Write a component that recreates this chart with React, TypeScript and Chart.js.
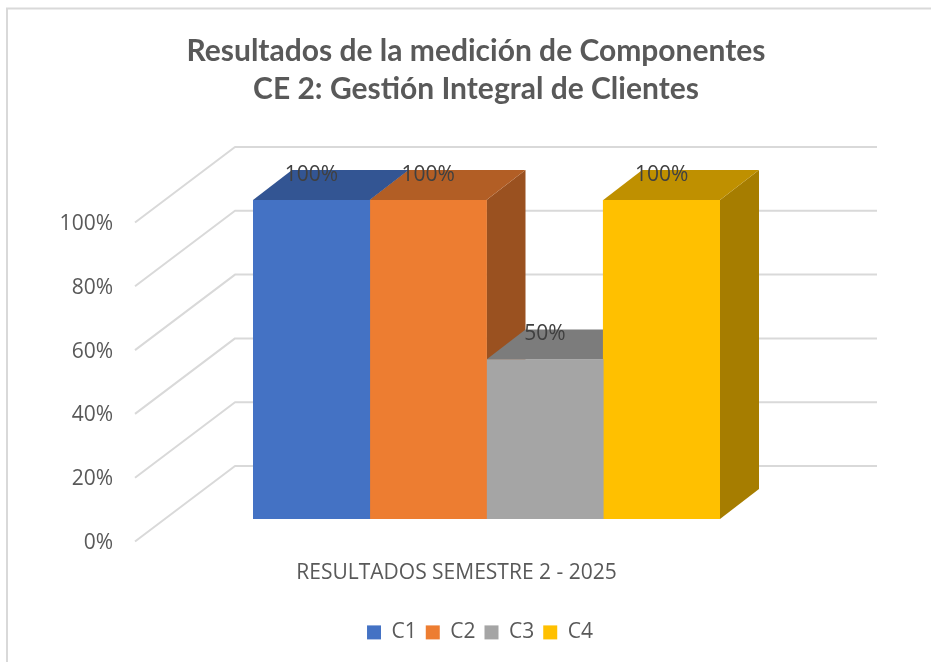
import React, { useEffect, useRef } from "react";
import { Chart, registerables } from "chart.js";

Chart.register(...registerables);

const titleLines = ["Resultados de la medición de Componentes", "CE 2: Gestión Integral de Clientes"];
const categories = ["RESULTADOS SEMESTRE 2 - 2025"];
const seriesNames = ["C1", "C2", "C3", "C4"];
const seriesValues = [100, 100, 50, 100];
const frontColors = ["#4472C4", "#ED7D31", "#A5A5A5", "#FFC000"];
const topColors = ["#335593", "#B25E25", "#7C7C7C", "#BF9000"];
const sideColors = ["#2C4A80", "#9A5120", "#6B6B6B", "#A67D00"];
const gridTicks = [0, 20, 40, 60, 80, 100];

const DEPTH_X = 39;
const DEPTH_Y = -30;
const PLOT_BOTTOM = 519;

const box3d = {
  id: "box3d",
  afterLayout(chart: any) {
    const { chartArea, scales, legend } = chart;
    const dy = PLOT_BOTTOM - chartArea.bottom;
    chartArea.bottom += dy;
    chartArea.height += dy;
    scales.y.bottom += dy;
    scales.y.height += dy;
    scales.y.configure();
    scales.x.top += dy;
    scales.x.bottom += dy;
    if (legend) {
      legend.left += 4;
      legend.right += 4;
      legend.top += 33.5;
      legend.bottom += 33.5;
    }
  },
  beforeDraw(chart: any) {
    const { ctx, chartArea, scales } = chart;
    ctx.save();
    // chart frame (only the top and left edges lie inside the picture)
    ctx.strokeStyle = "#D9D9D9";
    ctx.lineWidth = 2;
    ctx.beginPath();
    ctx.moveTo(7, 662);
    ctx.lineTo(7, 8.5);
    ctx.lineTo(931, 8.5);
    ctx.stroke();
    // walls
    ctx.lineWidth = 2;
    ctx.lineJoin = "round";
    gridTicks.forEach((v) => {
      const y = scales.y.getPixelForValue(v);
      ctx.beginPath();
      ctx.moveTo(chartArea.left - 118, y + 22.5);
      ctx.lineTo(chartArea.left - 18, y - 53);
      ctx.lineTo(chartArea.right + 157, y - 53);
      ctx.stroke();
    });
    ctx.restore();
  },
  beforeDatasetsDraw(chart: any) {
    const { ctx } = chart;
    ctx.save();
    seriesValues.forEach((_, i) => {
      const bar = chart.getDatasetMeta(i).data[0];
      const l = bar.x - bar.width / 2;
      const r = bar.x + bar.width / 2;
      const t = bar.y;
      const b = bar.base;
      ctx.fillStyle = sideColors[i];
      ctx.beginPath();
      ctx.moveTo(r, t);
      ctx.lineTo(r + DEPTH_X, t + DEPTH_Y);
      ctx.lineTo(r + DEPTH_X, b + DEPTH_Y);
      ctx.lineTo(r, b);
      ctx.closePath();
      ctx.fill();
      ctx.fillStyle = topColors[i];
      ctx.beginPath();
      ctx.moveTo(l, t);
      ctx.lineTo(l + DEPTH_X, t + DEPTH_Y);
      ctx.lineTo(r + DEPTH_X, t + DEPTH_Y);
      ctx.lineTo(r, t);
      ctx.closePath();
      ctx.fill();
    });
    ctx.restore();
  },
  afterDatasetsDraw(chart: any) {
    const { ctx } = chart;
    ctx.save();
    ctx.font = '21px "Open Sans"';
    ctx.fillStyle = "#404040";
    ctx.textAlign = "center";
    ctx.textBaseline = "middle";
    seriesValues.forEach((v, i) => {
      const bar = chart.getDatasetMeta(i).data[0];
      ctx.fillText(v + "%", bar.x, bar.y - 25);
    });
    ctx.restore();
  },
};

export default function App() {
  const ref = useRef<HTMLCanvasElement>(null);
  useEffect(() => {
    const chart = new Chart(ref.current as HTMLCanvasElement, {
      type: "bar",
      data: {
        labels: categories,
        datasets: seriesNames.map((name, i) => ({
          label: name,
          data: [seriesValues[i]],
          backgroundColor: frontColors[i],
          borderWidth: 0,
          barPercentage: 1,
          categoryPercentage: 1,
        })),
      },
      options: {
        responsive: false,
        animation: false,
        layout: { padding: { left: 21, right: 0, top: 0, bottom: 0 } },
        plugins: {
          tooltip: { enabled: false },
          title: {
            display: true,
            text: titleLines,
            color: "#595959",
            font: { family: "Lato", size: 30, weight: "bold", lineHeight: 1.267 },
            padding: { top: 32, bottom: 92 },
          },
          legend: {
            position: "bottom",
            labels: {
              boxWidth: 14,
              boxHeight: 14,
              padding: 9,
              color: "#595959",
              font: { family: "Open Sans", size: 21 },
            },
          },
        },
        scales: {
          x: {
            grid: { display: false },
            border: { display: false },
            ticks: {
              color: "#595959",
              font: { family: "Open Sans", size: 21 },
              labelOffset: -30,
              padding: 33,
              maxRotation: 0,
              autoSkip: false,
            },
            afterFit(scale: any) {
              scale.height = 70;
            },
          },
          y: {
            min: 0,
            max: 100,
            grid: { display: false, drawTicks: false },
            border: { display: false },
            ticks: {
              stepSize: 20,
              color: "#595959",
              font: { family: "Open Sans", size: 21 },
              padding: 140,
              labelOffset: 24,
              callback: (v: any) => v + "%",
            },
            afterFit(scale: any) {
              scale.width = 232;
            },
          },
          y2: {
            position: "right",
            grid: { display: false, drawTicks: false },
            border: { display: false },
            ticks: { display: false },
            afterFit(scale: any) {
              scale.width = 211;
            },
          },
        },
      } as any,
      plugins: [box3d],
    });
    return () => chart.destroy();
  }, []);
  return (
    <canvas
      ref={ref}
      width={931}
      height={662}
      style={{ position: "absolute", left: 0, top: 0, display: "block" }}
    />
  );
}
